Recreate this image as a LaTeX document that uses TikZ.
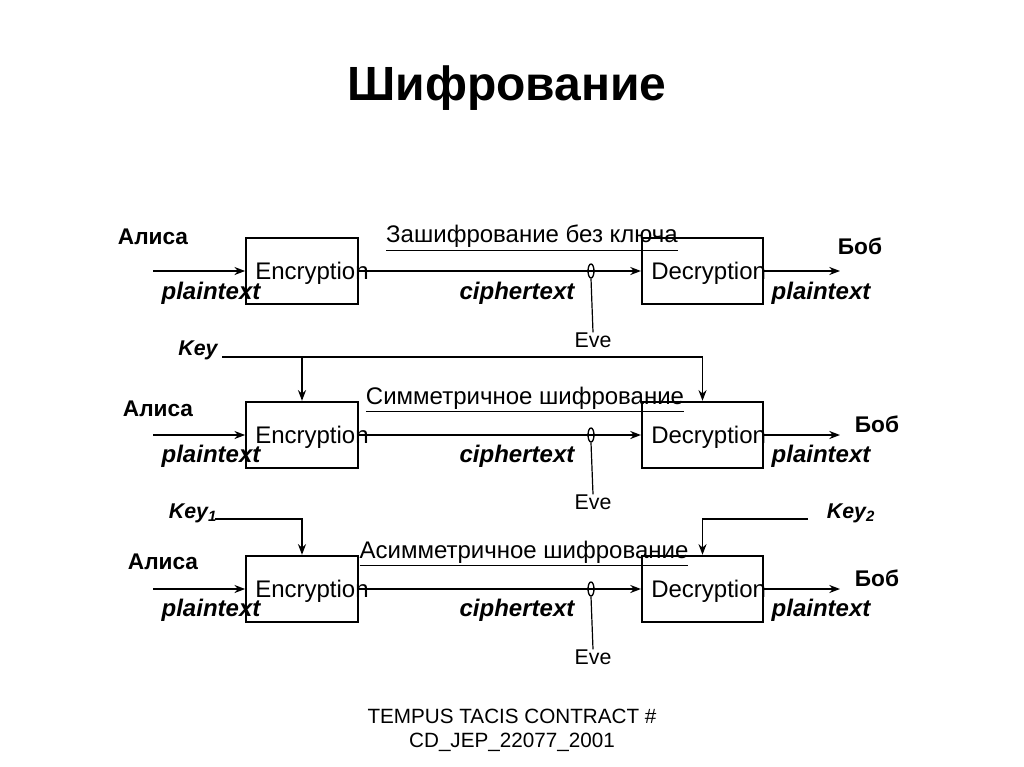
\documentclass[tikz,border=0pt]{standalone}
\usepackage{fontspec}
\setmainfont{Liberation Sans}
\usetikzlibrary{arrows.meta,shapes.geometric}
\begin{document}
\begin{tikzpicture}[x=0.75pt,y=-0.75pt,
  ln/.style={line width=1.4pt},
  arr/.style={ln,-{Stealth[length=8pt,width=6pt]}},
  ebox/.style={draw,line width=1.3pt,minimum width=84pt,minimum height=50pt,inner sep=0},
  dbox/.style={draw,line width=1.3pt,minimum width=91pt,minimum height=50pt,inner sep=0},
  txt/.style={font=\fontsize{18}{20}\selectfont,inner sep=0},
  ltxt/.style={font=\fontsize{17}{20}\selectfont\bfseries,inner sep=0},
  itxt/.style={font=\fontsize{18}{20}\selectfont\bfseries\itshape,inner sep=0},
  ktxt/.style={font=\fontsize{16}{18}\selectfont\bfseries\itshape,inner sep=0},
  evet/.style={font=\fontsize{16}{18}\selectfont,inner sep=0},
  eveo/.style={draw,ellipse,line width=1pt,minimum width=4.5pt,minimum height=10.5pt,inner sep=0},
  foot/.style={font=\fontsize{15.5}{18}\selectfont,inner sep=0}
]
\useasboundingbox[fill=white] (0,0) rectangle (1024,767);
\node[font=\fontsize{36}{40}\selectfont\bfseries,inner sep=0] (title) at (507,88) {Шифрование};

% ---------- Row 1 ----------
\node[ebox] (e1) at (302,271) {};
\node[dbox] (d1) at (702.5,271) {};
\node[txt,anchor=west] (e1t) at (255,273) {Encryption};
\node[txt,anchor=west] (d1t) at (651,273) {Decryption};
\coordinate (in1) at (153,271);
\coordinate (out1) at (840,271);
\draw[arr] (in1) -- (e1.west);
\draw[arr] (e1.east) -- (d1.west);
\draw[arr] (d1.east) -- (out1);
\node[ltxt] (a1) at (153,237) {Алиса};
\node[ltxt] (b1) at (860,246) {Боб};
\node[itxt] (p1l) at (211,293) {plaintext};
\node[itxt] (c1) at (517,293) {ciphertext};
\node[itxt] (p1r) at (821,293) {plaintext};
\node[txt] (t1) at (532,238) {\underline{Зашифрование без ключа}};
\node[eveo] (o1) at (591,271) {};
\node[evet] (ev1) at (593,340) {Eve};
\draw[line width=0.9pt] (o1.south) -- (ev1.north);

% ---------- Row 2 ----------
\node[ebox] (e2) at (302,435) {};
\node[dbox] (d2) at (702.5,435) {};
\node[txt,anchor=west] (e2t) at (255,437) {Encryption};
\node[txt,anchor=west] (d2t) at (651,437) {Decryption};
\coordinate (in2) at (153,435);
\coordinate (out2) at (840,435);
\draw[arr] (in2) -- (e2.west);
\draw[arr] (e2.east) -- (d2.west);
\draw[arr] (d2.east) -- (out2);
\node[ltxt] (a2) at (158,409) {Алиса};
\node[ltxt] (b2) at (877,424) {Боб};
\node[itxt] (p2l) at (211,456) {plaintext};
\node[itxt] (c2) at (517,456) {ciphertext};
\node[itxt] (p2r) at (821,456) {plaintext};
\node[txt] (t2) at (525,400) {\underline{Симметричное шифрование}};
\node[eveo] (o2) at (591,435) {};
\node[evet] (ev2) at (593,502) {Eve};
\draw[line width=0.9pt] (o2.south) -- (ev2.north);
\node[ktxt] (k) at (198,350) {Key};
\coordinate (ks) at (222,357);
\coordinate (ke) at (d2.north |- ks);
\draw[ln] (ks) -- (ke);
\draw[arr] (ks -| e2.north) -- (e2.north);
\draw[arr] (ke) -- (d2.north);

% ---------- Row 3 ----------
\node[ebox] (e3) at (302,589) {};
\node[dbox] (d3) at (702.5,589) {};
\node[txt,anchor=west] (e3t) at (255,591) {Encryption};
\node[txt,anchor=west] (d3t) at (651,591) {Decryption};
\coordinate (in3) at (153,589);
\coordinate (out3) at (840,589);
\draw[arr] (in3) -- (e3.west);
\draw[arr] (e3.east) -- (d3.west);
\draw[arr] (d3.east) -- (out3);
\node[ltxt] (a3) at (163,562) {Алиса};
\node[ltxt] (b3) at (877,578) {Боб};
\node[itxt] (p3l) at (211,610) {plaintext};
\node[itxt] (c3) at (517,610) {ciphertext};
\node[itxt] (p3r) at (821,610) {plaintext};
\node[txt] (t3) at (524,554) {\underline{Асимметричное шифрование}};
\node[eveo] (o3) at (591,589) {};
\node[evet] (ev3) at (593,657) {Eve};
\draw[line width=0.9pt] (o3.south) -- (ev3.north);
\node[ktxt] (k1) at (193,513) {Key\textsubscript{1}};
\node[ktxt] (k2) at (851,513) {Key\textsubscript{2}};
\coordinate (k1s) at (215,519);
\coordinate (k2s) at (808,519);
\draw[arr] (k1s) -| (e3.north);
\draw[arr] (k2s) -| (d3.north);

% ---------- Footer ----------
\node[foot] (f1) at (512,716) {TEMPUS TACIS CONTRACT \#};
\node[foot] (f2) at (512,742) {CD\_JEP\_22077\_2001};
\end{tikzpicture}
\end{document}
